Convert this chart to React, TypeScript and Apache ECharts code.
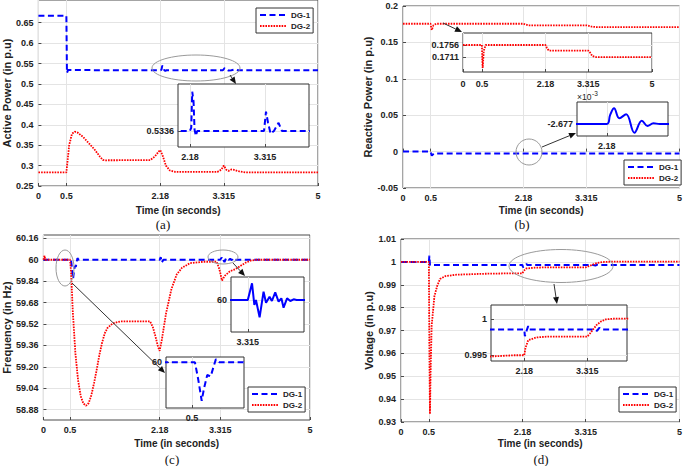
import React, { useEffect, useRef } from "react";
import * as echarts from "echarts";

// ---------- data (time in seconds, value) ----------
const timeTicks = [0, 0.5, 2.18, 3.315, 5];

const activeDG1: number[][] = [
  [0, 0.667], [0.5, 0.667], [0.505, 0.6], [0.51, 0.527], [0.52, 0.526], [0.53, 0.534], [0.54, 0.5336],
  [2.18, 0.5336], [2.2, 0.5345], [2.215, 0.5448], [2.235, 0.542], [2.25, 0.534], [2.27, 0.5322], [2.29, 0.5336],
  [3.3, 0.5336], [3.33, 0.5391], [3.36, 0.536], [3.4, 0.5328], [3.45, 0.5336], [3.52, 0.5359], [3.57, 0.5336],
  [5, 0.5336],
];
const activeDG2: number[][] = [
  [0, 0.2833], [0.5, 0.2833], [0.52, 0.31], [0.55, 0.35], [0.6, 0.378], [0.65, 0.383], [0.7, 0.381],
  [0.8, 0.37], [0.9, 0.355], [1.0, 0.34], [1.1, 0.322], [1.15, 0.314], [1.2, 0.313], [2.0, 0.3135],
  [2.08, 0.322], [2.15, 0.334], [2.18, 0.338], [2.22, 0.325], [2.28, 0.3], [2.35, 0.288], [2.45, 0.2845],
  [3.2, 0.2845], [3.27, 0.29], [3.315, 0.3], [3.36, 0.29], [3.4, 0.287], [3.45, 0.2905], [3.5, 0.2895],
  [3.6, 0.2855], [3.7, 0.2835], [5, 0.2833],
];
const activeTicks = [0.25, 0.3, 0.35, 0.4, 0.45, 0.5, 0.55, 0.6, 0.65];

const reactiveDG1: number[][] = [
  [0, 0], [0.5, 0], [0.51, -0.003], [0.52, -0.0055], [0.54, -0.004], [0.56, -0.0027], [0.6, -0.002677],
  [2.18, -0.002677], [2.2, -0.00266], [2.224, -0.002647], [2.256, -0.002666], [2.297, -0.0026585],
  [2.347, -0.0026937], [2.392, -0.0026707], [2.426, -0.0026809], [2.462, -0.0026757], [2.5, -0.002677],
  [5, -0.002677],
];
const reactiveDG2: number[][] = [
  [0, 0.1756], [0.5, 0.1756], [0.51, 0.17], [0.52, 0.167], [0.53, 0.169], [0.55, 0.1735], [0.6, 0.1756],
  [2.18, 0.1756], [2.22, 0.1745], [2.27, 0.1735], [3.315, 0.1735], [3.36, 0.1728], [3.42, 0.1715],
  [3.5, 0.1711], [5, 0.1711],
];
const reactiveTicks = [-0.05, 0, 0.05, 0.1, 0.15, 0.2];

const freqDG1: number[][] = [
  [0, 60], [0.5, 60], [0.517, 60], [0.536, 59.936], [0.556, 59.857], [0.569, 59.902], [0.588, 59.953],
  [0.608, 59.948], [0.623, 59.981], [0.638, 60.012], [0.66, 60], [2.18, 60], [2.2, 60.02], [2.22, 59.98],
  [2.25, 60], [3.315, 60], [3.344, 60.0167], [3.36, 59.995], [3.371, 60.0], [3.396, 59.9827],
  [3.423, 60.0083], [3.44, 59.9973], [3.464, 60.0033], [3.48, 59.999], [3.503, 60.0077], [3.526, 59.9983],
  [3.545, 60.0017], [3.56, 59.9923], [3.584, 60.0017], [3.606, 59.999], [3.629, 60.0007], [3.65, 60], [5, 60],
];
const freqDG2: number[][] = [
  [0, 60], [0.01, 60], [0.02, 60.03], [0.035, 60], [0.5, 60], [0.52, 59.9], [0.55, 59.62], [0.6, 59.3],
  [0.65, 59.1], [0.7, 58.98], [0.75, 58.925], [0.8, 58.91], [0.85, 58.93], [0.9, 58.99], [0.95, 59.08],
  [1.0, 59.18], [1.05, 59.29], [1.1, 59.38], [1.15, 59.45], [1.2, 59.49], [1.3, 59.525], [1.45, 59.54],
  [2.0, 59.54], [2.05, 59.5], [2.1, 59.43], [2.15, 59.35], [2.18, 59.32], [2.22, 59.4], [2.3, 59.6],
  [2.4, 59.78], [2.5, 59.89], [2.6, 59.94], [2.75, 59.975], [3.0, 59.985], [3.25, 59.985], [3.3, 59.93],
  [3.35, 59.845], [3.4, 59.88], [3.5, 59.915], [3.6, 59.93], [3.7, 59.955], [3.8, 59.98], [3.9, 59.995],
  [4.0, 60], [5, 60],
];
const freqTicks = [58.88, 59.04, 59.2, 59.36, 59.52, 59.68, 59.84, 60, 60.16];

const voltDG1: number[][] = [
  [0, 1], [0.5, 1], [0.51, 1.0027], [0.52, 0.9986], [2.18, 0.9986], [2.19, 0.99766], [2.22, 0.9984],
  [2.25, 0.99906], [2.27, 0.9986], [3.45, 0.9986], [3.49, 0.9984], [3.53, 0.99882], [3.56, 0.9986], [5, 0.9986],
];
const voltDG2: number[][] = [
  [0, 1], [0.5, 1], [0.51, 0.96], [0.52, 0.9335], [0.53, 0.95], [0.55, 0.972], [0.6, 0.985], [0.65, 0.9895],
  [0.7, 0.9925], [0.8, 0.9938], [1.0, 0.9944], [1.5, 0.9948], [2.0, 0.995], [2.18, 0.995], [2.2, 0.996],
  [2.25, 0.9971], [2.4, 0.99748], [2.6, 0.9976], [3.315, 0.9976], [3.36, 0.998], [3.41, 0.9985],
  [3.48, 0.9992], [3.56, 0.9997], [3.65, 1.0], [3.8, 1.0001], [5, 1.0001],
];
const voltTicks = [0.93, 0.94, 0.95, 0.96, 0.97, 0.98, 0.99, 1, 1.01];

// ---------- styling helpers ----------
const FONT = "'Liberation Sans', Arial, sans-serif";
const BLUE = "#0000ff";
const RED = "#ff0000";
const FRAME = "#4a4a4a";
const GRIDC = "#e4e4e4";
const TXT = "#222";

type Box = { left: number; top: number; width: number; height: number };

function fmtDefault(v: number) {
  return String(+v.toFixed(6));
}

function xAxisDef(gridIndex: number, min: number, max: number, ticks: number[], opts: any = {}) {
  return {
    type: "value",
    gridIndex,
    min,
    max,
    axisLine: { show: false },
    axisTick: { show: true, inside: true, length: 3, customValues: ticks, lineStyle: { color: FRAME } },
    axisLabel: {
      customValues: ticks,
      fontSize: opts.fontSize || 9,
      fontWeight: "bold",
      fontFamily: FONT,
      color: TXT,
      margin: opts.margin || 5,
      formatter: (v: number) => fmtDefault(v),
    },
    splitLine: { show: true, lineStyle: { color: GRIDC, width: 1 } },
    z: opts.z || 0,
    name: opts.name,
    nameLocation: "middle",
    nameGap: opts.nameGap || 20,
    nameTextStyle: { fontSize: 10, fontWeight: "bold", fontFamily: FONT, color: TXT },
  };
}

function yAxisDef(gridIndex: number, min: number, max: number, ticks: number[], opts: any = {}) {
  return {
    type: "value",
    gridIndex,
    min,
    max,
    axisLine: { show: false },
    axisTick: { show: true, inside: true, length: 3, customValues: ticks, lineStyle: { color: FRAME } },
    axisLabel: {
      customValues: ticks,
      fontSize: opts.fontSize || 9,
      fontWeight: "bold",
      fontFamily: FONT,
      color: TXT,
      margin: opts.margin || 5,
      formatter: opts.formatter || ((v: number) => fmtDefault(v)),
    },
    splitLine: { show: true, lineStyle: { color: GRIDC, width: 1 } },
    z: opts.z || 0,
    name: opts.name,
    nameLocation: "middle",
    nameRotate: 90,
    nameGap: opts.nameGap || 20,
    nameTextStyle: { fontSize: 11, fontWeight: "bold", fontFamily: FONT, color: TXT },
  };
}

function gridDef(b: Box, inset: boolean) {
  return {
    ...b,
    show: true,
    containLabel: false,
    borderColor: inset ? "#333" : FRAME,
    borderWidth: 1,
    backgroundColor: inset ? "#fff" : "transparent",
    z: inset ? 10 : 0,
  };
}

function dg1(name: string, data: number[][], idx: number, z = 2, solid = false) {
  return {
    type: "line",
    name,
    data,
    xAxisIndex: idx,
    yAxisIndex: idx,
    showSymbol: false,
    symbol: "none",
    clip: true,
    z,
    lineStyle: { color: BLUE, width: 2, type: solid ? "solid" : [6, 3.5] },
    itemStyle: { color: BLUE },
    animation: false,
  };
}

function dg2(name: string, data: number[][], idx: number, z = 2) {
  return {
    type: "line",
    name,
    data,
    xAxisIndex: idx,
    yAxisIndex: idx,
    showSymbol: false,
    symbol: "none",
    clip: true,
    z,
    lineStyle: { color: RED, width: 1.8, type: [1.6, 1.1] },
    itemStyle: { color: RED },
    animation: false,
  };
}

function legendDef(left: number, top: number) {
  return {
    left,
    top,
    orient: "vertical",
    itemWidth: 26,
    itemHeight: 8,
    itemGap: 3,
    padding: [3, 3, 3, 3],
    backgroundColor: "#fff",
    borderColor: "#333",
    borderWidth: 1,
    selectedMode: false,
    itemStyle: { opacity: 0, borderWidth: 0 },
    lineStyle: { opacity: 1 },
    textStyle: { fontSize: 8, fontWeight: "bold", fontFamily: FONT, color: TXT },
    data: ["DG-1", "DG-2"],
    z: 6,
  };
}

function arrow(x1: number, y1: number, x2: number, y2: number) {
  const ang = Math.atan2(y2 - y1, x2 - x1);
  const L = 7, W = 3;
  const bx = x2 - L * Math.cos(ang), by = y2 - L * Math.sin(ang);
  const px = -Math.sin(ang) * W, py = Math.cos(ang) * W;
  return [
    { type: "line", z: 30, shape: { x1, y1, x2: bx, y2: by }, style: { stroke: "#333", lineWidth: 1 } },
    {
      type: "polygon", z: 30,
      shape: { points: [[x2, y2], [bx + px, by + py], [bx - px, by - py]] },
      style: { fill: "#111" },
    },
  ];
}

function ellipse(cx: number, cy: number, rx: number, ry: number) {
  return { type: "ellipse", z: 30, shape: { cx, cy, rx, ry }, style: { fill: "none", stroke: "#9a9a9a", lineWidth: 1 } };
}

function caption(x: number, y: number, t: string) {
  return {
    type: "text", z: 30, x, y,
    style: { text: t, font: "13px 'Liberation Serif', 'Times New Roman', serif", fill: "#111", align: "center", verticalAlign: "middle" },
  };
}

export default function App() {
  const ref = useRef<HTMLDivElement>(null);
  useEffect(() => {
    if (!ref.current) return;
    const chart = echarts.init(ref.current, undefined, { renderer: "svg" });

    const grids = [
      gridDef({ left: 36, top: -1, width: 282, height: 187 }, false), // 0 a
      gridDef({ left: 403, top: 6, width: 278, height: 182 }, false), // 1 b
      gridDef({ left: 35, top: 235, width: 275, height: 185 }, false), // 2 c
      gridDef({ left: 401, top: 239, width: 282, height: 183 }, false), // 3 d
      gridDef({ left: 178, top: 84, width: 131, height: 63 }, true), // 4 a inset
      gridDef({ left: 463, top: 33, width: 189, height: 39 }, true), // 5 b inset 1
      gridDef({ left: 577, top: 102, width: 91, height: 34 }, true), // 6 b inset 2
      gridDef({ left: 166, top: 357, width: 78, height: 51 }, true), // 7 c inset lower
      gridDef({ left: 231, top: 277, width: 73, height: 55 }, true), // 8 c inset upper
      gridDef({ left: 491, top: 305, width: 136, height: 56 }, true), // 9 d inset
    ];

    const T = "Time (in seconds)";
    const xAxes = [
      xAxisDef(0, 0, 5, timeTicks, { name: T, nameGap: 19 }),
      xAxisDef(1, 0, 5, timeTicks, { name: T, nameGap: 17 }),
      xAxisDef(2, 0, 5, timeTicks, { name: T, nameGap: 18 }),
      xAxisDef(3, 0, 5, timeTicks, { name: T, nameGap: 16 }),
      xAxisDef(4, 2.0, 3.98, [2.18, 3.315], { z: 11, margin: 5 }),
      xAxisDef(5, 0, 5, timeTicks, { z: 11, margin: 7 }),
      xAxisDef(6, 2.0, 2.55, [2.18], { z: 11, margin: 5 }),
      xAxisDef(7, 0.35, 0.8, [0.5], { z: 11, margin: 5 }),
      xAxisDef(8, 3.2, 3.7, [3.315], { z: 11, margin: 5 }),
      xAxisDef(9, 1.58, 4.03, [2.18, 3.315], { z: 11, margin: 5 }),
    ];
    const yAxes = [
      yAxisDef(0, 0.25, 0.7057, activeTicks, { name: "Active Power (in p.u)", nameGap: 20 }),
      yAxisDef(1, -0.05, 0.2, reactiveTicks, { name: "Reactive Power (in p.u)", nameGap: 24 }),
      yAxisDef(2, 58.803, 60.185, freqTicks, {
        name: "Frequency (in Hz)", nameGap: 24,
        formatter: (v: number) => (Math.abs(v - 60) < 1e-9 ? "60" : v.toFixed(2)),
      }),
      yAxisDef(3, 0.93, 1.01, voltTicks, { name: "Voltage (in p.u)", nameGap: 20 }),
      yAxisDef(4, 0.529, 0.547, [0.5336], { z: 11, margin: 4 }),
      yAxisDef(5, 0.1655, 0.1801, [0.1711, 0.1756], { z: 11, margin: 4 }),
      yAxisDef(6, -0.0027, -0.002635, [-0.002677], {
        z: 11, margin: 4, formatter: (v: number) => (v * 1000).toFixed(3),
      }),
      yAxisDef(7, 59.83, 60.02, [60], { z: 11, margin: 4, formatter: () => "60" }),
      yAxisDef(8, 59.968, 60.023, [60], { z: 11, margin: 4, formatter: () => "60" }),
      yAxisDef(9, 0.9942, 1.002, [0.995, 1], { z: 11, margin: 4 }),
    ];

    const series = [
      dg1("DG-1", activeDG1, 0), dg2("DG-2", activeDG2, 0),
      dg1("DG-1", reactiveDG1, 1), dg2("DG-2", reactiveDG2, 1),
      dg1("DG-1", freqDG1, 2), dg2("DG-2", freqDG2, 2),
      dg1("DG-1", voltDG1, 3), dg2("DG-2", voltDG2, 3),
      dg1("DG-1 (zoom a)", activeDG1, 4, 12),
      dg2("DG-2 (zoom b)", reactiveDG2, 5, 12),
      { ...dg1("DG-1 (zoom b)", reactiveDG1, 6, 12, true), smooth: 0.4 },
      dg1("DG-1 (zoom c1)", freqDG1, 7, 12),
      dg1("DG-1 (zoom c2)", freqDG1, 8, 12, true),
      dg1("DG-1 (zoom d)", voltDG1, 9, 12), dg2("DG-2 (zoom d)", voltDG2, 9, 12),
    ];

    const graphics: any[] = [
      ellipse(196, 68, 44, 13),
      ellipse(529, 152, 13, 13),
      ellipse(65, 268, 9, 18),
      ellipse(223, 257, 15, 7),
      ellipse(561, 266, 52, 16.5),
      ...arrow(230, 75, 236, 84),
      ...arrow(443, 23, 462, 32),
      ...arrow(542, 147, 576, 133),
      ...arrow(72, 283, 165, 373),
      ...arrow(233, 263, 245, 276),
      ...arrow(554, 284, 557, 304),
      caption(163, 224, "(a)"),
      caption(522, 224, "(b)"),
      caption(172, 459, "(c)"),
      caption(541, 459, "(d)"),
      {
        type: "text", z: 30, x: 577, y: 97,
        style: { text: "×10", font: `8.5px ${FONT}`, fill: TXT, verticalAlign: "middle" },
      },
      {
        type: "text", z: 30, x: 592, y: 93,
        style: { text: "-3", font: `6.5px ${FONT}`, fill: TXT, verticalAlign: "middle" },
      },
    ];

    chart.setOption({
      animation: false,
      backgroundColor: "#fff",
      grid: grids,
      xAxis: xAxes,
      yAxis: yAxes,
      legend: [legendDef(256, 8), legendDef(624, 160), legendDef(248, 387), legendDef(619, 387)],
      series,
      graphic: { elements: graphics },
    });
    return () => chart.dispose();
  }, []);
  return (
    <div
      ref={ref}
      style={{ position: "fixed", left: 0, top: 0, width: 685, height: 466, background: "#fff" }}
    />
  );
}
